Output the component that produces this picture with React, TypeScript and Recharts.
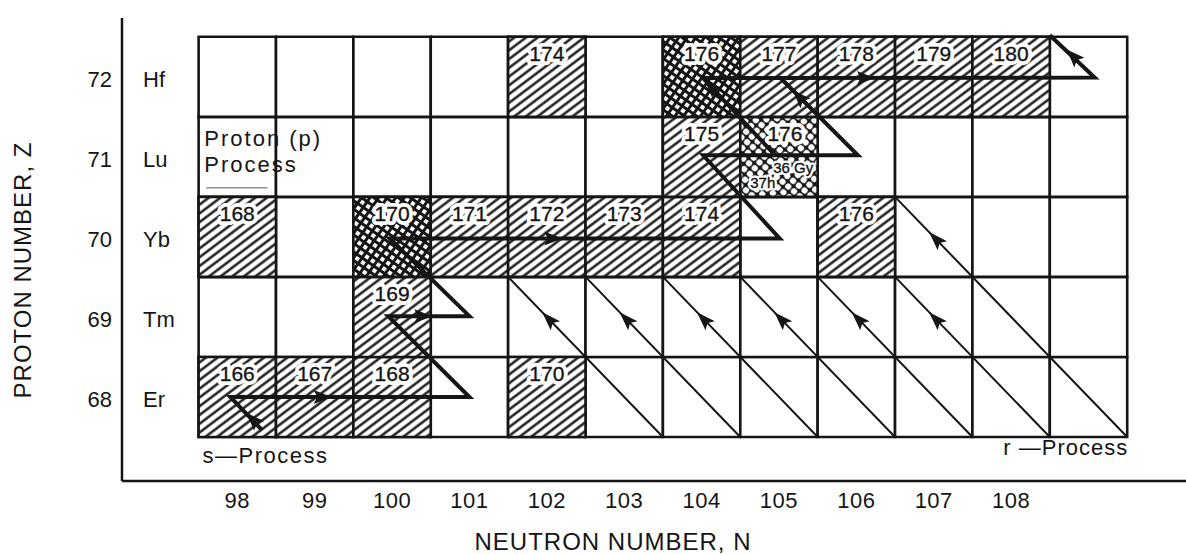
import React from "react";
import {
  ComposedChart,
  XAxis,
  YAxis,
  Scatter,
  ReferenceArea,
  ReferenceDot,
} from "recharts";

const FONT = '"Liberation Sans", Arial, Helvetica, sans-serif';
const INK = "#151515";

const WIDTH = 1186;
const HEIGHT = 554;
const AXIS_W = 122;
const AXIS_H = 73;
const TOP = 18;
const N_DOMAIN: [number, number] = [96.51, 110.26];
const Z_DOMAIN: [number, number] = [66.95, 72.735];

// axis ticks
const neutronTicks = [98, 99, 100, 101, 102, 103, 104, 105, 106, 107, 108];
const columns = [98, 99, 100, 101, 102, 103, 104, 105, 106, 107, 108, 109];
const protonTicks = [68, 69, 70, 71, 72];
const elements = ["Er", "Tm", "Yb", "Lu", "Hf"];
const edgesN = [97.5, 98.5, 99.5, 100.5, 101.5, 102.5, 103.5, 104.5, 105.5, 106.5, 107.5, 108.5, 109.5];
const edgesZ = [67.5, 68.5, 69.5, 70.5, 71.5, 72.5];
const topMarks = [103.5, 104.5, 105.5, 106.5, 107.5, 108.5, 109.5];
const rightMarks = [72.59, 71.65, 70.71, 69.675, 68.875, 67.94];

// stable / long-lived nuclides, labelled with mass number
type Nuclide = { n: number; z: number; a: number; fill: "hatch" | "cross" | "lu" };
const nuclides: Nuclide[] = [
  { n: 98, z: 68, a: 166, fill: "hatch" },
  { n: 99, z: 68, a: 167, fill: "hatch" },
  { n: 100, z: 68, a: 168, fill: "hatch" },
  { n: 102, z: 68, a: 170, fill: "hatch" },
  { n: 100, z: 69, a: 169, fill: "hatch" },
  { n: 98, z: 70, a: 168, fill: "hatch" },
  { n: 100, z: 70, a: 170, fill: "cross" },
  { n: 101, z: 70, a: 171, fill: "hatch" },
  { n: 102, z: 70, a: 172, fill: "hatch" },
  { n: 103, z: 70, a: 173, fill: "hatch" },
  { n: 104, z: 70, a: 174, fill: "hatch" },
  { n: 106, z: 70, a: 176, fill: "hatch" },
  { n: 104, z: 71, a: 175, fill: "hatch" },
  { n: 105, z: 71, a: 176, fill: "lu" },
  { n: 102, z: 72, a: 174, fill: "hatch" },
  { n: 104, z: 72, a: 176, fill: "cross" },
  { n: 105, z: 72, a: 177, fill: "hatch" },
  { n: 106, z: 72, a: 178, fill: "hatch" },
  { n: 107, z: 72, a: 179, fill: "hatch" },
  { n: 108, z: 72, a: 180, fill: "hatch" },
];
const lu176HalfLives = ["36 Gy", "37h"];

// s-process path: neutron captures (right) and beta decays (up-left)
const sPath = [
  { n: 98.32, z: 67.585 },
  { n: 97.91, z: 68 },
  { n: 101, z: 68 },
  { n: 99.95, z: 69.01 },
  { n: 101, z: 69.01 },
  { n: 99.97, z: 69.98 },
  { n: 105.01, z: 69.98 },
  { n: 104.02, z: 71.02 },
  { n: 106.02, z: 71.02 },
  { n: 105.02, z: 71.985 },
];
const hfPath = [
  { n: 104.02, z: 71.985 },
  { n: 109.08, z: 71.99 },
  { n: 108.5, z: 72.52 },
];
const lu176Decay = [
  { n: 104.95, z: 71.02 },
  { n: 104.02, z: 71.985 },
];

// r-process beta-decay chains
const rChains = [
  [{ n: 103.5, z: 67.5 }, { n: 101.5, z: 69.5 }],
  [{ n: 104.5, z: 67.5 }, { n: 102.5, z: 69.5 }],
  [{ n: 105.5, z: 67.5 }, { n: 103.5, z: 69.5 }],
  [{ n: 106.5, z: 67.5 }, { n: 104.5, z: 69.5 }],
  [{ n: 107.5, z: 67.5 }, { n: 105.5, z: 69.5 }],
  [{ n: 108.5, z: 67.5 }, { n: 106.5, z: 69.5 }],
  [{ n: 109.5, z: 67.5 }, { n: 106.5, z: 70.5 }],
];

const pathArrows = [
  { n: 98.12, z: 67.8, dir: "ul" },
  { n: 99.22, z: 68, dir: "r" },
  { n: 100.52, z: 69.01, dir: "r" },
  { n: 102.2, z: 69.98, dir: "r" },
  { n: 106.24, z: 71.985, dir: "r" },
  { n: 104.04, z: 71.96, dir: "ul" },
  { n: 105.18, z: 71.83, dir: "ul" },
  { n: 108.72, z: 72.34, dir: "ul" },
];
const chainArrows = [
  { n: 101.94, z: 69.06, dir: "ul" },
  { n: 102.94, z: 69.06, dir: "ul" },
  { n: 103.94, z: 69.06, dir: "ul" },
  { n: 104.94, z: 69.06, dir: "ul" },
  { n: 105.94, z: 69.06, dir: "ul" },
  { n: 106.94, z: 69.06, dir: "ul" },
  { n: 106.94, z: 70.06, dir: "ul" },
];

const PX_N = (WIDTH - AXIS_W) / (N_DOMAIN[1] - N_DOMAIN[0]);
const PX_Z = (HEIGHT - TOP - AXIS_H) / (Z_DOMAIN[1] - Z_DOMAIN[0]);
const DIRS: Record<string, [number, number]> = { r: [1, 0], ul: [-1, 1] };

const arrowHead = (len: number, half: number) => (props: any) => {
  const { cx, cy, payload } = props;
  const [dn, dz] = DIRS[payload.dir];
  const ang = (Math.atan2(-dz * PX_Z, dn * PX_N) * 180) / Math.PI;
  return (
    <polygon
      points={`0,0 ${-len},${-half} ${-len * 0.8},0 ${-len},${half}`}
      transform={`translate(${cx},${cy}) rotate(${ang})`}
      fill={INK}
    />
  );
};

const NoDot = () => <g />;

// text with a white knock-out behind it, so hatching stops around the digits
const Halo = ({ x, y, size, halo, anchor, children }: any) => (
  <g fontSize={size} textAnchor={anchor || "start"}>
    <text x={x} y={y} fill="#fff" stroke="#fff" strokeWidth={halo} strokeLinejoin="round">
      {children}
    </text>
    <text x={x} y={y} fill={INK} stroke={INK} strokeWidth={0.35}>
      {children}
    </text>
  </g>
);

const massLabel = (c: Nuclide) => (props: any) => {
  const { x, y, width } = props.viewBox;
  const shift = c.fill === "lu" ? 6 : 0;
  return (
    <g>
      <Halo x={x + width / 2 + shift} y={y + 24} size={21} halo={8} anchor="middle">
        {c.a}
      </Halo>
      {c.fill === "lu" && (
        <>
          <Halo x={x + 33} y={y + 56} size={15} halo={5}>
            {lu176HalfLives[0]}
          </Halo>
          <Halo x={x + 10} y={y + 71} size={15} halo={5}>
            {lu176HalfLives[1]}
          </Halo>
        </>
      )}
    </g>
  );
};

const ProtonTick = (props: any) => {
  const { x, y, payload } = props;
  const sym = elements[protonTicks.indexOf(payload.value)];
  return (
    <g fontSize={22} fill={INK}>
      <text x={x} y={y + 10} textAnchor="end">
        {payload.value}
      </text>
      <text x={x + 31} y={y + 10} textAnchor="start">
        {sym}
      </text>
    </g>
  );
};

const fillFor = (c: Nuclide) => `url(#${c.fill})`;

export default function App() {
  return (
    <div style={{ position: "absolute", left: 0, top: 0, fontFamily: FONT, background: "#fff" }}>
      <ComposedChart
        width={WIDTH}
        height={HEIGHT}
        margin={{ top: TOP, right: 0, bottom: 0, left: 0 }}
      >
        <defs>
          <pattern id="hatch" patternUnits="userSpaceOnUse" width="10" height="7" patternTransform="rotate(-37)">
            <rect width="10" height="7" fill="#fff" />
            <line x1="0" y1="3.5" x2="10" y2="3.5" stroke={INK} strokeWidth="2.4" />
          </pattern>
          <pattern id="cross" patternUnits="userSpaceOnUse" width="7" height="7" patternTransform="rotate(35)">
            <rect width="7" height="7" fill="#fff" />
            <path d="M0 3.5 H7 M3.5 0 V7" stroke={INK} strokeWidth="3" />
          </pattern>
          <pattern id="lu" patternUnits="userSpaceOnUse" width="7.5" height="7.5" patternTransform="rotate(40)">
            <rect width="7.5" height="7.5" fill={INK} />
            <circle cx="3.75" cy="3.75" r="3.1" fill="#fff" />
          </pattern>
        </defs>

        <XAxis
          xAxisId={0}
          dataKey="n"
          type="number"
          domain={N_DOMAIN}
          allowDataOverflow
          ticks={neutronTicks}
          interval={0}
          height={AXIS_H}
          tickLine={false}
          tickSize={0}
          tickMargin={11}
          tick={{ fontSize: 22, fill: INK, letterSpacing: 0.5 }}
          axisLine={{ stroke: INK, strokeWidth: 2.5 }}
          label={{
            content: (p: any) => (
              <text
                x={p.viewBox.x + 491}
                y={p.viewBox.y + 69}
                textAnchor="middle"
                fontSize={24}
                letterSpacing={1}
                fill={INK}
              >
                NEUTRON NUMBER, N
              </text>
            ),
          }}
        />
        <XAxis
          xAxisId="frame"
          type="number"
          domain={N_DOMAIN}
          allowDataOverflow
          ticks={edgesN}
          interval={0}
          mirror
          height={0}
          axisLine={false}
          tick={false}
          tickSize={12}
          tickLine={{ stroke: INK, strokeWidth: 2.5 }}
        />
        <XAxis
          xAxisId="top"
          orientation="top"
          type="number"
          domain={N_DOMAIN}
          allowDataOverflow
          ticks={topMarks}
          interval={0}
          height={0}
          axisLine={false}
          tick={false}
          tickSize={8}
          tickLine={{ stroke: INK, strokeWidth: 3, strokeDasharray: "3 30" }}
        />
        <YAxis
          yAxisId={0}
          dataKey="z"
          type="number"
          domain={Z_DOMAIN}
          allowDataOverflow
          ticks={protonTicks}
          interval={0}
          width={AXIS_W}
          tickLine={false}
          tickSize={0}
          tickMargin={10}
          tick={<ProtonTick />}
          axisLine={{ stroke: INK, strokeWidth: 2.5 }}
          label={{
            content: (p: any) => {
              const cx = p.viewBox.x + 31;
              const cy = p.viewBox.y + 252;
              return (
                <text
                  x={cx}
                  y={cy}
                  transform={`rotate(-90 ${cx} ${cy})`}
                  textAnchor="middle"
                  fontSize={24}
                  letterSpacing={1}
                  fill={INK}
                >
                  PROTON NUMBER, Z
                </text>
              );
            },
          }}
        />
        <YAxis
          yAxisId="frame"
          type="number"
          domain={Z_DOMAIN}
          allowDataOverflow
          ticks={edgesZ}
          interval={0}
          mirror
          width={0}
          axisLine={false}
          tick={false}
          tickSize={13}
          tickLine={{ stroke: INK, strokeWidth: 2.5 }}
        />
        <YAxis
          yAxisId="right"
          orientation="right"
          type="number"
          domain={Z_DOMAIN}
          allowDataOverflow
          ticks={rightMarks}
          interval={0}
          mirror
          width={0}
          axisLine={false}
          tick={false}
          tickSize={5}
          tickLine={{ stroke: INK, strokeWidth: 2 }}
        />

        {/* empty grid of nuclide cells */}
        {protonTicks.map((z) =>
          columns.map((n) => (
            <ReferenceArea
              key={`c-${n}-${z}`}
              x1={n - 0.5}
              x2={n + 0.5}
              y1={z - 0.5}
              y2={z + 0.5}
              fill="#fff"
              fillOpacity={1}
              stroke={INK}
              strokeWidth={2.6}
            />
          ))
        )}

        {/* filled cells */}
        {nuclides.map((c) => (
          <ReferenceArea
            key={`s-${c.n}-${c.z}`}
            x1={c.n - 0.5}
            x2={c.n + 0.5}
            y1={c.z - 0.5}
            y2={c.z + 0.5}
            fill={fillFor(c)}
            fillOpacity={1}
            stroke={INK}
            strokeWidth={2.6}
            label={{ content: massLabel(c) }}
          />
        ))}

        <ReferenceDot
          x={98}
          y={71}
          shape={(p: any) => (
            <g fill={INK} fontSize={22} letterSpacing={2}>
              <text x={p.cx - 33} y={p.cy - 11}>Proton (p)</text>
              <text x={p.cx - 33} y={p.cy + 15}>Process</text>
              <line x1={p.cx - 31} x2={p.cx + 30} y1={p.cy + 31} y2={p.cy + 31} stroke="#555" strokeWidth={1} />
            </g>
          )}
        />
        <ReferenceDot
          x={97.5}
          y={67.5}
          shape={(p: any) => (
            <text x={p.cx + 4} y={p.cy + 26} fill={INK} fontSize={22} letterSpacing={1.5}>
              s—Process
            </text>
          )}
        />
        <ReferenceDot
          x={109.5}
          y={67.5}
          shape={(p: any) => (
            <text x={p.cx + 1} y={p.cy + 18} fill={INK} fontSize={22} letterSpacing={1} textAnchor="end">
              r —Process
            </text>
          )}
        />

        {rChains.map((seg, i) => (
          <Scatter
            key={`r-${i}`}
            data={seg}
            line={{ stroke: INK, strokeWidth: 2 }}
            shape={NoDot}
            isAnimationActive={false}
          />
        ))}
        <Scatter
          data={sPath}
          line={{ stroke: INK, strokeWidth: 4, strokeLinejoin: "miter" }}
          shape={NoDot}
          isAnimationActive={false}
        />
        <Scatter
          data={hfPath}
          line={{ stroke: INK, strokeWidth: 4, strokeLinejoin: "miter" }}
          shape={NoDot}
          isAnimationActive={false}
        />
        <Scatter
          data={lu176Decay}
          line={{ stroke: INK, strokeWidth: 4 }}
          shape={NoDot}
          isAnimationActive={false}
        />
        <Scatter data={pathArrows} shape={arrowHead(18, 7)} isAnimationActive={false} />
        <Scatter data={chainArrows} shape={arrowHead(19, 6.5)} isAnimationActive={false} />
      </ComposedChart>
    </div>
  );
}
